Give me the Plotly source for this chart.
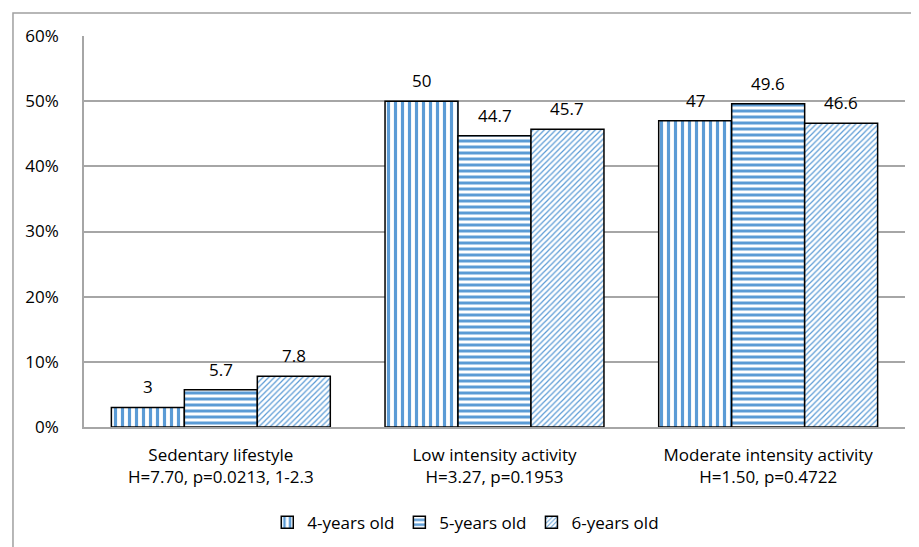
import plotly.graph_objects as go

categories = [
    "Sedentary lifestyle<br>H=7.70, p=0.0213, 1-2.3",
    "Low intensity activity<br>H=3.27, p=0.1953",
    "Moderate intensity activity<br>H=1.50, p=0.4722",
]
age_groups = ["4-years old", "5-years old", "6-years old"]
values_4y = [3, 50, 47]
values_5y = [5.7, 44.7, 49.6]
values_6y = [7.8, 45.7, 46.6]
tick_vals = [0, 10, 20, 30, 40, 50, 60]
tick_text = ["0%", "10%", "20%", "30%", "40%", "50%", "60%"]

BLUE = "#5B9BD5"
GRID = "#A6A6A6"
FONT = "Open Sans, Liberation Sans, sans-serif"

series = [values_4y, values_5y, values_6y]
patterns = [
    dict(shape="|", size=7, solidity=0.45),
    dict(shape="-", size=6, solidity=0.5),
    dict(shape="/", size=4, solidity=0.3),
]

PLOT_W = 911 - 76 - 14
bar_px = PLOT_W / len(categories) * 0.8 / len(series)

fig = go.Figure()
for k, (name, vals, pat) in enumerate(zip(age_groups, series, patterns)):
    fig.add_trace(go.Bar(
        x=categories, y=vals, name=name,
        marker=dict(
            color="white",
            line=dict(color="#000000", width=1.5),
            pattern=dict(fgcolor=BLUE, bgcolor="white", fillmode="replace", **pat),
        ),
    ))
    # value labels, shifted over to their bar in the group
    for cat, v in zip(categories, vals):
        fig.add_annotation(
            x=cat, y=v, text=f"{v:g}", showarrow=False,
            xshift=(k - 1) * bar_px, yshift=7, yanchor="bottom",
            font=dict(size=17, color="#000000"),
        )

# outer chart border
fig.add_shape(type="rect", xref="paper", yref="paper",
              x0=-0.0865, x1=1.05, y0=-0.4, y1=1.059,
              line=dict(color="#A0A0A0", width=1.5), layer="below")

# page body adds an 8px offset, so the figure is sized to fit it
fig.update_layout(
    width=911, height=539,
    margin=dict(l=76, r=14, t=28, b=120, autoexpand=False),
    paper_bgcolor="white", plot_bgcolor="white",
    barmode="group", bargap=0.2, bargroupgap=0,
    font=dict(family=FONT, size=17, color="#000000"),
    showlegend=True,
    legend=dict(orientation="h", x=0.465, xanchor="center",
                yref="container", y=0.045, yanchor="middle",
                font=dict(size=17), itemwidth=30, traceorder="normal"),
    xaxis=dict(showgrid=False, showline=True, linecolor=GRID, linewidth=1.5,
               ticks="", ticklabelstandoff=12, automargin=False,
               tickfont=dict(size=17)),
    yaxis=dict(range=[0, 60], tickvals=tick_vals, ticktext=tick_text,
               showgrid=True, gridcolor=GRID, gridwidth=1.5,
               showline=True, linecolor=GRID, linewidth=1.5,
               zeroline=False, ticks="", ticklabelstandoff=20,
               automargin=False, tickfont=dict(size=17)),
)

fig.write_html("out.html")
